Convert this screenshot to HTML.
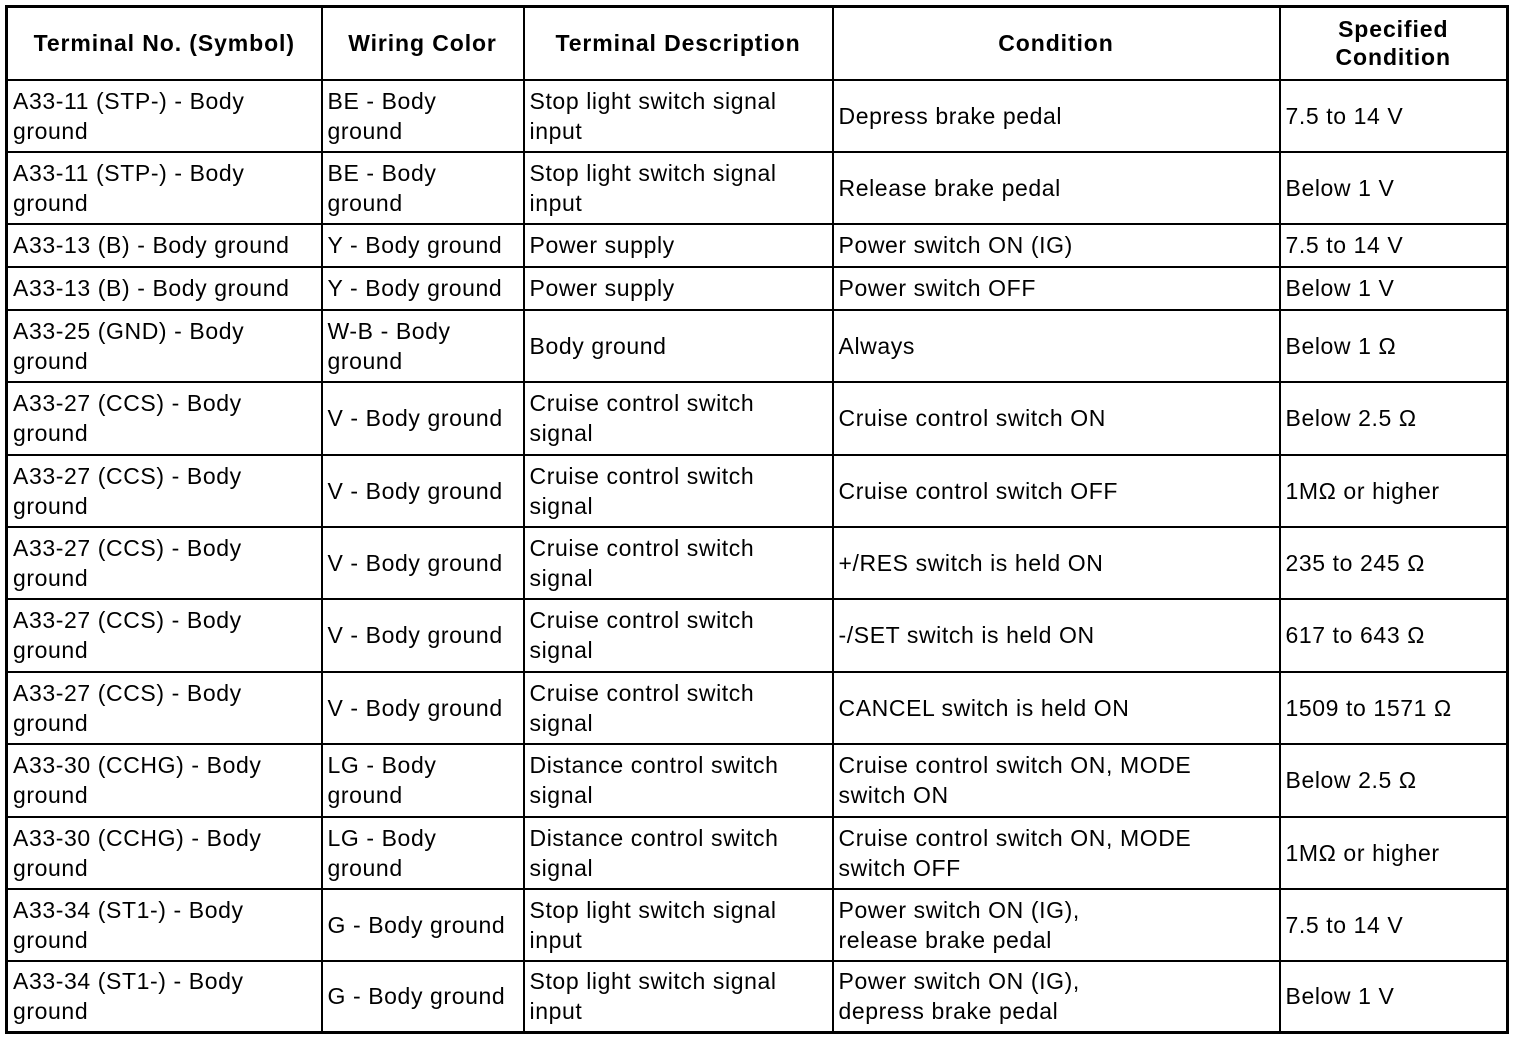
<!DOCTYPE html>
<html><head><meta charset="utf-8"><style>
html,body{margin:0;padding:0;background:#fff;width:1520px;height:1038px;overflow:hidden}
table{position:absolute;left:5px;top:5px;width:1501px;height:1027px;border-collapse:collapse;table-layout:fixed;border:3px solid #000;font-family:"Liberation Sans",Arial,sans-serif;font-size:23px;line-height:30px;color:#000;letter-spacing:0.6px}
td,th{border:2px solid #000;padding:0 0 0 5px;vertical-align:middle;text-align:left;font-weight:normal;overflow:hidden;white-space:nowrap}
th{font-weight:bold;text-align:center;font-size:23px;line-height:28px;letter-spacing:0.9px;padding:0}
</style></head><body>
<table>
<colgroup><col style="width:315px"><col style="width:202px"><col style="width:309px"><col style="width:447px"><col style="width:228px"></colgroup>
<tr style="height:73px"><th>Terminal No. (Symbol)</th><th>Wiring Color</th><th>Terminal Description</th><th>Condition</th><th>Specified<br>Condition</th></tr>
<tr style="height:72px"><td>A33-11 (STP-) - Body<br>ground</td><td>BE - Body<br>ground</td><td>Stop light switch signal<br>input</td><td>Depress brake pedal</td><td>7.5 to 14 V</td></tr>
<tr style="height:72px"><td>A33-11 (STP-) - Body<br>ground</td><td>BE - Body<br>ground</td><td>Stop light switch signal<br>input</td><td>Release brake pedal</td><td>Below 1 V</td></tr>
<tr style="height:43px"><td>A33-13 (B) - Body ground</td><td>Y - Body ground</td><td>Power supply</td><td>Power switch ON (IG)</td><td>7.5 to 14 V</td></tr>
<tr style="height:43px"><td>A33-13 (B) - Body ground</td><td>Y - Body ground</td><td>Power supply</td><td>Power switch OFF</td><td>Below 1 V</td></tr>
<tr style="height:72px"><td>A33-25 (GND) - Body<br>ground</td><td>W-B - Body<br>ground</td><td>Body ground</td><td>Always</td><td>Below 1 Ω</td></tr>
<tr style="height:73px"><td>A33-27 (CCS) - Body<br>ground</td><td>V - Body ground</td><td>Cruise control switch<br>signal</td><td>Cruise control switch ON</td><td>Below 2.5 Ω</td></tr>
<tr style="height:72px"><td>A33-27 (CCS) - Body<br>ground</td><td>V - Body ground</td><td>Cruise control switch<br>signal</td><td>Cruise control switch OFF</td><td>1MΩ or higher</td></tr>
<tr style="height:72px"><td>A33-27 (CCS) - Body<br>ground</td><td>V - Body ground</td><td>Cruise control switch<br>signal</td><td>+/RES switch is held ON</td><td>235 to 245 Ω</td></tr>
<tr style="height:73px"><td>A33-27 (CCS) - Body<br>ground</td><td>V - Body ground</td><td>Cruise control switch<br>signal</td><td>-/SET switch is held ON</td><td>617 to 643 Ω</td></tr>
<tr style="height:72px"><td>A33-27 (CCS) - Body<br>ground</td><td>V - Body ground</td><td>Cruise control switch<br>signal</td><td>CANCEL switch is held ON</td><td>1509 to 1571 Ω</td></tr>
<tr style="height:73px"><td>A33-30 (CCHG) - Body<br>ground</td><td>LG - Body<br>ground</td><td>Distance control switch<br>signal</td><td>Cruise control switch ON, MODE<br>switch ON</td><td>Below 2.5 Ω</td></tr>
<tr style="height:72px"><td>A33-30 (CCHG) - Body<br>ground</td><td>LG - Body<br>ground</td><td>Distance control switch<br>signal</td><td>Cruise control switch ON, MODE<br>switch OFF</td><td>1MΩ or higher</td></tr>
<tr style="height:72px"><td>A33-34 (ST1-) - Body<br>ground</td><td>G - Body ground</td><td>Stop light switch signal<br>input</td><td>Power switch ON (IG),<br>release brake pedal</td><td>7.5 to 14 V</td></tr>
<tr style="height:72px"><td>A33-34 (ST1-) - Body<br>ground</td><td>G - Body ground</td><td>Stop light switch signal<br>input</td><td>Power switch ON (IG),<br>depress brake pedal</td><td>Below 1 V</td></tr>
</table>
</body></html>
